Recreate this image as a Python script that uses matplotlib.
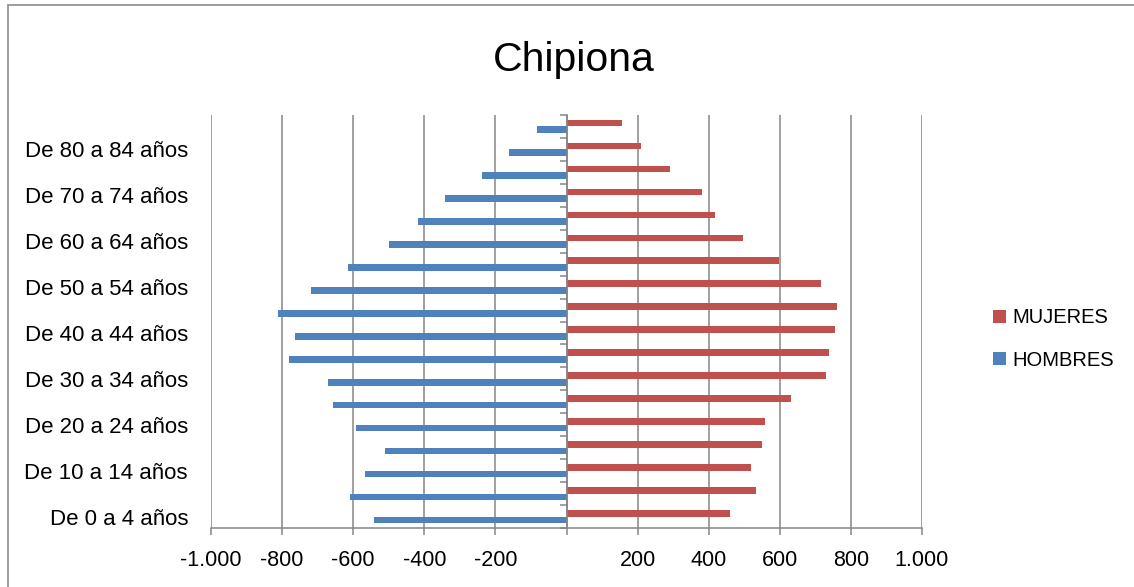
import matplotlib
matplotlib.use("Agg")
import matplotlib.pyplot as plt
import numpy as np
from matplotlib.ticker import FuncFormatter, FixedLocator
from matplotlib.patches import Rectangle
import matplotlib.transforms as mtransforms

plt.rcParams['font.family'] = ['Liberation Sans', 'DejaVu Sans']

categorias = ["De 0 a 4 años", "De 5 a 9 años", "De 10 a 14 años", "De 15 a 19 años",
              "De 20 a 24 años", "De 25 a 29 años", "De 30 a 34 años", "De 35 a 39 años",
              "De 40 a 44 años", "De 45 a 49 años", "De 50 a 54 años", "De 55 a 59 años",
              "De 60 a 64 años", "De 65 a 69 años", "De 70 a 74 años", "De 75 a 79 años",
              "De 80 a 84 años", "De 85 y más años"]
hombres = [-541, -609, -568, -510, -592, -658, -672, -780, -764,
           -812, -720, -616, -500, -419, -341, -239, -162, -83]
mujeres = [460, 533, 520, 551, 557, 632, 729, 739, 754,
           761, 717, 599, 497, 419, 381, 290, 209, 156]
xticks = [-1000, -800, -600, -400, -200, 0, 200, 400, 600, 800, 1000]

ROJO = "#C0504D"
AZUL = "#4F81BD"
GRIS = "#868686"


def etiqueta(v, pos):
    if v == 0:
        return ""
    s = f"{abs(int(v)):,}".replace(",", ".")
    return "-" + s if v < 0 else s


def main():
    fig = plt.figure(figsize=(11.34, 5.87), dpi=100)
    ax = fig.add_axes([211 / 1134, 1 - 528 / 587, 711 / 1134, 413 / 587])

    y = np.arange(len(categorias))
    h = 0.29
    b_m = ax.barh(y + h / 2, mujeres, height=h, color=ROJO, label="MUJERES", zorder=3)
    b_h = ax.barh(y - h / 2, hombres, height=h, color=AZUL, label="HOMBRES", zorder=3)

    ax.set_xlim(-1000, 1000)
    ax.set_ylim(-0.5, len(categorias) - 0.5)

    ax.xaxis.set_major_locator(FixedLocator(xticks))
    ax.xaxis.set_major_formatter(FuncFormatter(etiqueta))
    ax.tick_params(axis='x', direction='out', length=5, width=1.1, color=GRIS,
                   labelsize=15.5, pad=11)
    ax.grid(axis='x', color=GRIS, linewidth=1.1, zorder=1)

    # eje vertical en x=0 con marcas entre categorias
    ax.spines['left'].set_position(('data', 0))
    ax.spines['left'].set_color(GRIS)
    ax.spines['left'].set_linewidth(1.1)
    ax.spines['left'].set_zorder(4)
    ax.set_yticks(np.arange(-0.5, len(categorias), 1.0))
    ax.set_yticklabels([])
    ax.tick_params(axis='y', direction='out', length=5, width=1.1, color=GRIS)
    ax.spines['bottom'].set_color(GRIS)
    ax.spines['bottom'].set_linewidth(1.1)
    ax.spines['top'].set_visible(False)
    ax.spines['right'].set_visible(False)

    trans = mtransforms.blended_transform_factory(ax.transAxes, ax.transData)
    for i in range(0, len(categorias), 2):
        ax.text(-23 / 711, y[i], categorias[i], transform=trans, ha='right',
                va='center_baseline', fontsize=16)

    fig.text(574 / 1134, 1 - 60 / 587, "Chipiona", ha='center', va='center', fontsize=29.5)

    fig.legend(handles=[b_m, b_h], loc='center left',
               bbox_to_anchor=(985 / 1134, 1 - 339 / 587), frameon=False,
               fontsize=14.5, handlelength=0.65, handleheight=0.65,
               handletextpad=0.3, labelspacing=1.15, borderaxespad=0)

    fig.patches.append(Rectangle((8 / 1134, -0.1), 1.2, 1.1 - 5 / 587, transform=fig.transFigure,
                                 fill=False, edgecolor="#8c8c8c", linewidth=1.2))

    fig.savefig("out.png", dpi=100)


if __name__ == '__main__':
    main()
